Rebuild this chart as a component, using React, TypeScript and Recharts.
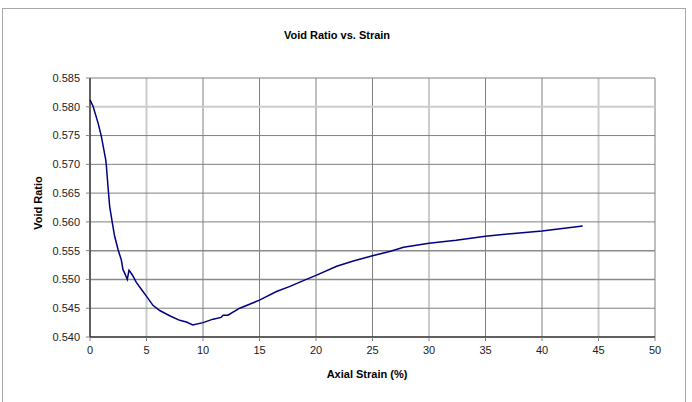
import React from "react";
import { LineChart, Line, XAxis, YAxis, ReferenceLine } from "recharts";

const strain = [
  0, 0.27, 0.71, 1.0, 1.39, 1.45, 1.59, 1.74, 1.98, 2.18, 2.48, 2.77, 2.92, 3.07, 3.3, 3.45, 3.6,
  3.8, 4.1, 4.54, 4.99, 5.57, 6.17, 7.05, 7.94, 8.53, 9.1, 10.0, 10.89, 11.6, 11.78, 12.2, 13.25,
  15.0, 16.5, 17.7, 18.88, 20.0, 21.83, 23.3, 25.0, 26.6, 27.75, 30.0, 32.4, 35.0, 37.5, 40.0, 43.6,
];
const voidRatio = [
  0.5812, 0.5801, 0.5772, 0.5749, 0.5708, 0.5697, 0.5662, 0.5627, 0.5598, 0.5575, 0.5552, 0.5534,
  0.5517, 0.5511, 0.55, 0.5516, 0.5512, 0.5506, 0.5495, 0.5483, 0.5471, 0.5455, 0.5446, 0.5437,
  0.5429, 0.5426, 0.5421, 0.5425, 0.5431, 0.5434, 0.5438, 0.5438, 0.545, 0.5464, 0.5479, 0.5488,
  0.5498, 0.5507, 0.5523, 0.5532, 0.5541, 0.5549, 0.5556, 0.5563, 0.5568, 0.5575, 0.558, 0.5584,
  0.5593,
];
const xTicks = [0, 5, 10, 15, 20, 25, 30, 35, 40, 45, 50];
const yTicks = [0.54, 0.545, 0.55, 0.555, 0.56, 0.565, 0.57, 0.575, 0.58, 0.585];

const chartTitle = "Void Ratio vs. Strain";
const xTitle = "Axial Strain (%)";
const yTitle = "Void Ratio";

const data = strain.map((s, i) => ({ strain: s, e: voidRatio[i] }));

const lightX = [5, 30, 45];
const lightY = [0.58];
const midY = [0.555, 0.55];

const FONT = "'Liberation Sans', Arial, sans-serif";

export default function App() {
  const tickStyle = { fontSize: 11, fill: "#222", fontFamily: FONT };
  return (
    <div style={{ position: "absolute", left: 0, top: 0, width: 692, height: 402, background: "#fff", fontFamily: FONT }}>
      <div
        style={{
          position: "absolute",
          left: 2,
          top: 8,
          width: 684,
          height: 400,
          border: "1px solid #a8a8a8",
          boxSizing: "border-box",
        }}
      />
      <div
        style={{
          position: "absolute",
          left: 0,
          width: 674,
          top: 29,
          textAlign: "center",
          fontSize: 11,
          fontWeight: "bold",
          color: "#000",
        }}
      >
        {chartTitle}
      </div>
      <div
        style={{
          position: "absolute",
          left: 0,
          width: 734,
          top: 368,
          textAlign: "center",
          fontSize: 11,
          fontWeight: "bold",
          color: "#000",
        }}
      >
        {xTitle}
      </div>
      <div
        style={{
          position: "absolute",
          left: 38,
          top: 203,
          transform: "translate(-50%, -50%) rotate(-90deg)",
          fontSize: 11,
          fontWeight: "bold",
          color: "#000",
          whiteSpace: "nowrap",
        }}
      >
        {yTitle}
      </div>
      <div style={{ position: "absolute", left: 0, top: 0 }}>
        <LineChart width={692} height={402} data={data} margin={{ top: 78, right: 37, bottom: 35, left: 30 }}>
          {xTicks.map((t) => (
            <ReferenceLine
              key={"x" + t}
              x={t}
              stroke={lightX.includes(t) ? "#cccccc" : "#808080"}
              strokeWidth={lightX.includes(t) ? 2 : 1}
              ifOverflow="extendDomain"
            />
          ))}
          {yTicks.map((t) => (
            <ReferenceLine
              key={"y" + t}
              y={t}
              stroke={lightY.includes(t) ? "#cccccc" : midY.includes(t) ? "#8a8a8a" : "#808080"}
              strokeWidth={lightY.includes(t) ? 2 : midY.includes(t) ? 1.5 : 1}
              ifOverflow="extendDomain"
            />
          ))}
          <XAxis
            dataKey="strain"
            type="number"
            domain={[0, 50]}
            ticks={xTicks}
            interval={0}
            tickSize={4}
            tickMargin={5}
            height={30}
            axisLine={{ stroke: "#000", strokeWidth: 1 }}
            tickLine={{ stroke: "#808080" }}
            tick={tickStyle}
          />
          <YAxis
            type="number"
            domain={[0.54, 0.585]}
            ticks={yTicks}
            interval={0}
            tickSize={4}
            tickMargin={6}
            width={60}
            axisLine={{ stroke: "#000", strokeWidth: 1 }}
            tickLine={{ stroke: "#808080" }}
            tick={tickStyle}
            tickFormatter={(v: number) => v.toFixed(3)}
          />
          <Line
            type="linear"
            dataKey="e"
            stroke="#000080"
            strokeWidth={1.5}
            dot={false}
            isAnimationActive={false}
          />
        </LineChart>
      </div>
    </div>
  );
}
